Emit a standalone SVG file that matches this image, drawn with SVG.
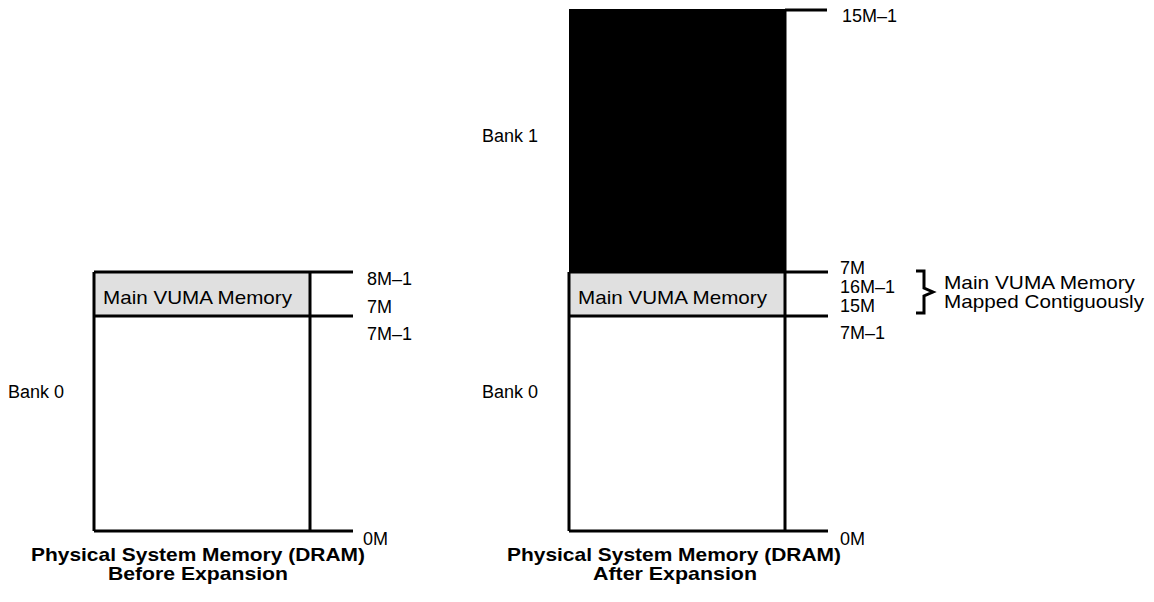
<svg xmlns="http://www.w3.org/2000/svg" width="1154" height="602" viewBox="0 0 1154 602">
<style>
.ln{stroke:#000;stroke-width:3;fill:none}
.t{font-family:"Liberation Sans",Arial,sans-serif;font-size:18px;fill:#000}
.m{font-family:"Liberation Sans",Arial,sans-serif;font-size:19px;fill:#000}
.b{font-family:"Liberation Sans",Arial,sans-serif;font-size:18.5px;font-weight:bold;fill:#000;text-anchor:middle}
</style>
<rect width="1154" height="602" fill="#fff"/>
<g id="before">
<rect x="94" y="272" width="216" height="44" fill="#e0e0e0"/>
<path class="ln" d="M94,531 V272 M310,272 V531"/>
<text class="m" x="103" y="304" textLength="189" lengthAdjust="spacingAndGlyphs">Main VUMA Memory</text>
<text class="t" x="8" y="398">Bank 0</text>
</g>
<g id="after">
<rect x="569" y="9" width="216" height="263" fill="#000"/>
<rect x="569" y="272" width="216" height="44" fill="#e0e0e0"/>
<path class="ln" d="M569,531 V272 M785,9 V531"/>
<text class="m" x="578" y="304" textLength="189" lengthAdjust="spacingAndGlyphs">Main VUMA Memory</text>
<text class="t" x="482" y="398">Bank 0</text>
<text class="t" x="482" y="142">Bank 1</text>
</g>
<g id="connectors">
<path class="ln" d="M94,272 H353 M94,316 H353 M94,531 H353"/>
<path class="ln" d="M785,10 H827 M569,272 H828 M569,316 H828 M569,531 H828"/>
<path class="ln" stroke-width="2.5" d="M916,271 H924 V288 L933,292 L924,296 V313 H916"/>
</g>
<g id="labels">
<text class="t" x="367" y="285">8M–1</text>
<text class="t" x="367" y="313">7M</text>
<text class="t" x="367" y="340">7M–1</text>
<text class="t" x="363" y="545">0M</text>
<text class="t" x="842" y="22">15M–1</text>
<text class="t" x="840" y="274">7M</text>
<text class="t" x="840" y="293">16M–1</text>
<text class="t" x="840" y="312">15M</text>
<text class="t" x="840" y="339">7M–1</text>
<text class="t" x="840" y="545">0M</text>
<text class="m" x="944" y="289" textLength="191" lengthAdjust="spacingAndGlyphs">Main VUMA Memory</text>
<text class="m" x="944" y="308" textLength="200" lengthAdjust="spacingAndGlyphs">Mapped Contiguously</text>
<text class="b" x="198" y="561" textLength="334" lengthAdjust="spacingAndGlyphs">Physical System Memory (DRAM)</text>
<text class="b" x="198" y="580" textLength="180" lengthAdjust="spacingAndGlyphs">Before Expansion</text>
<text class="b" x="674" y="561" textLength="334" lengthAdjust="spacingAndGlyphs">Physical System Memory (DRAM)</text>
<text class="b" x="675" y="580" textLength="164" lengthAdjust="spacingAndGlyphs">After Expansion</text>
</g>
</svg>
